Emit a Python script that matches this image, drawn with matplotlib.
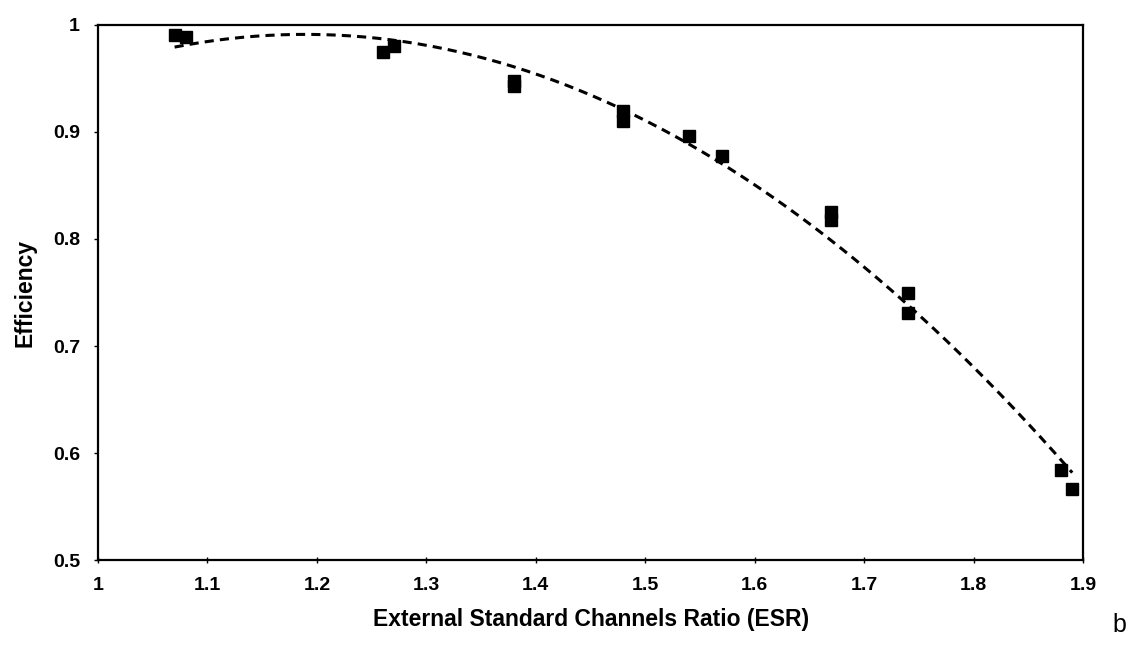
import numpy as np
import matplotlib
matplotlib.use("Agg")
import matplotlib.pyplot as plt
from matplotlib.ticker import FuncFormatter

plt.rcParams['font.family'] = ['Liberation Sans', 'DejaVu Sans']

# Measured efficiency against external standard channels ratio
esr = [1.07, 1.08, 1.26, 1.27, 1.38, 1.38, 1.48, 1.48, 1.54, 1.57,
       1.67, 1.67, 1.74, 1.74, 1.88, 1.89]
efficiency = [0.991, 0.989, 0.975, 0.980, 0.948, 0.943, 0.920, 0.910, 0.896, 0.878,
              0.825, 0.818, 0.750, 0.731, 0.584, 0.566]

x_ticks = [1, 1.1, 1.2, 1.3, 1.4, 1.5, 1.6, 1.7, 1.8, 1.9]
y_ticks = [0.5, 0.6, 0.7, 0.8, 0.9, 1.0]

fig = plt.figure(figsize=(11.39, 6.54), dpi=100)
ax = fig.add_axes([0.086, 0.1437, 0.865, 0.8181])

# Second-order polynomial trend line over the measured range
coef = np.polyfit(esr, efficiency, 2)
xs = np.linspace(min(esr), max(esr), 200)
ax.plot(xs, np.polyval(coef, xs), color='black', lw=2.2, dashes=[3, 2])

ax.plot(esr, efficiency, linestyle='none', marker='s', markersize=8.5,
        color='black', markeredgecolor='black')

ax.set_xlim(1, 1.9)
ax.set_ylim(0.5, 1.0)
ax.set_xticks(x_ticks)
ax.set_yticks(y_ticks)
fmt = FuncFormatter(lambda v, p: f"{v:g}")
ax.xaxis.set_major_formatter(fmt)
ax.yaxis.set_major_formatter(fmt)

for s in ax.spines.values():
    s.set_linewidth(1.6)
    s.set_color('black')

ax.tick_params(axis='x', direction='inout', length=5, width=1, labelsize=14, pad=10)
ax.tick_params(axis='y', direction='out', length=3, width=1, labelsize=14, pad=10)
for lbl in ax.get_xticklabels() + ax.get_yticklabels():
    lbl.set_fontweight('bold')

ax.set_xlabel('External Standard Channels Ratio (ESR)', fontsize=16.5, fontweight='bold', labelpad=10)
ax.set_ylabel('Efficiency', fontsize=16.5, fontweight='bold', labelpad=12)

fig.text(0.983, 0.045, 'b', fontsize=18, ha='center', va='center')

fig.savefig('out.png', dpi=100, facecolor='white')
